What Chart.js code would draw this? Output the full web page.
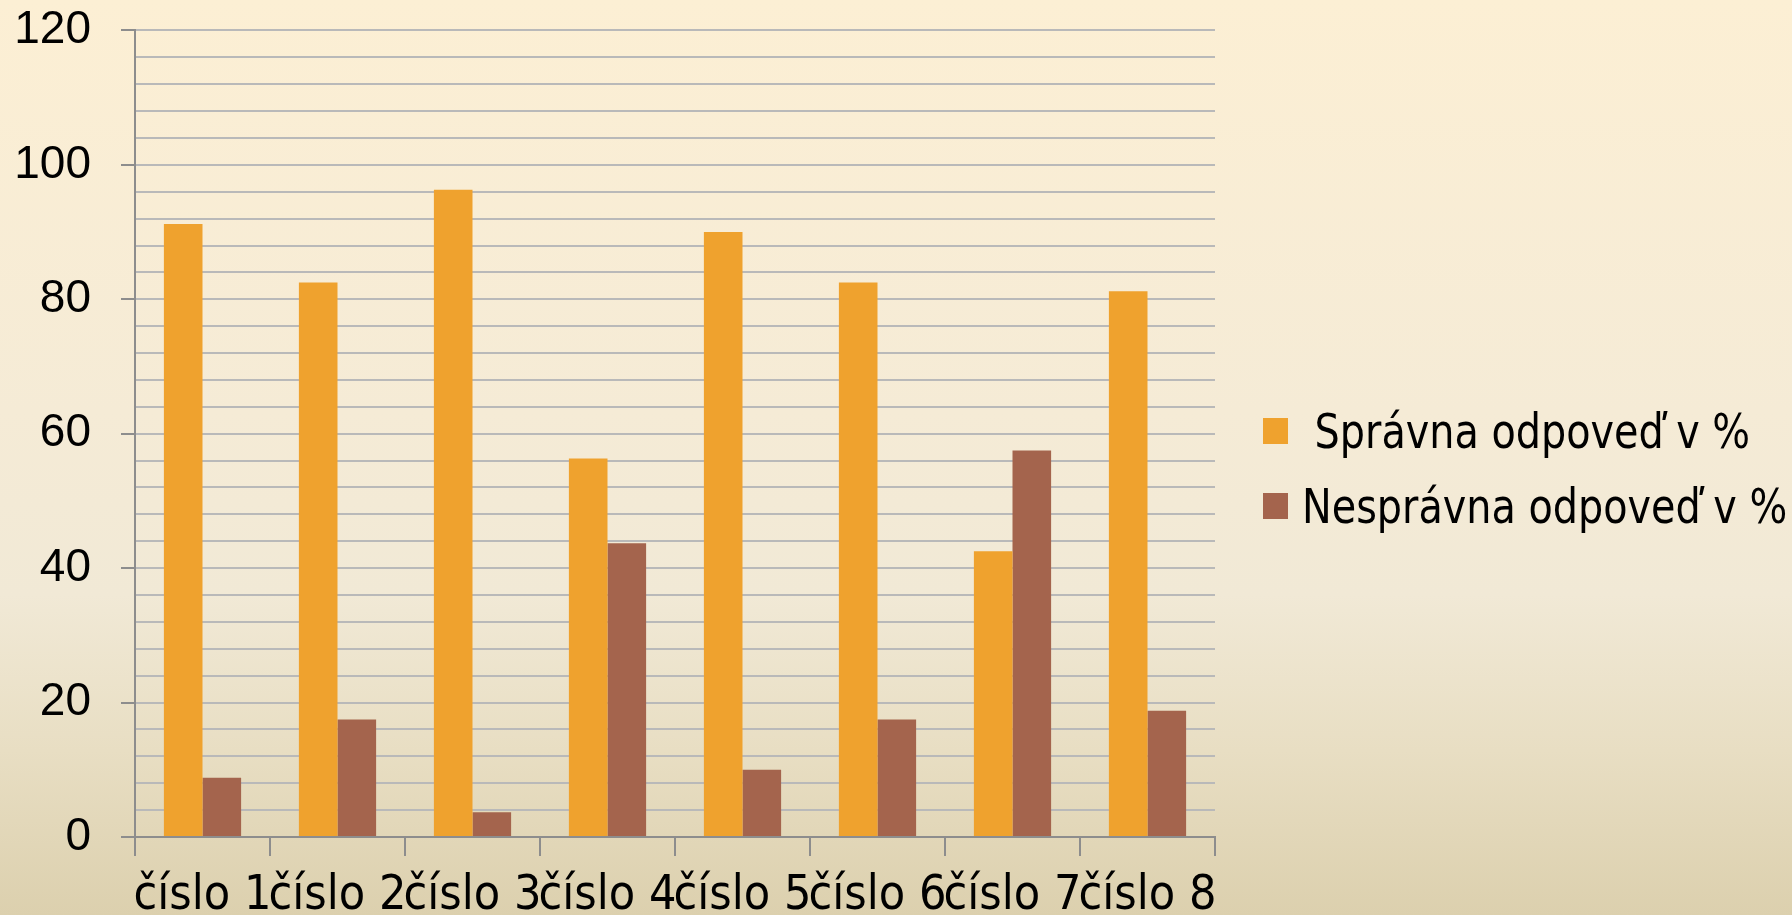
<!DOCTYPE html>
<html>
<head>
<meta charset="utf-8">
<script src="https://cdn.jsdelivr.net/npm/chart.js@4"></script>
<style>
  html, body { margin: 0; padding: 0; }
  body {
    width: 1792px; height: 915px; overflow: hidden;
    background: linear-gradient(to bottom, #fcefd4 0%, #f5ebd6 45%, #f1e9d6 65%, #e8dec3 82%, #dcd0ae 100%);
  }
  #wrap { position: relative; width: 1792px; height: 915px; }
  #legend { position: absolute; left: 1263px; top: 405px; font-family: "DejaVu Sans Condensed", "Liberation Sans", sans-serif; font-size: 48px; color: #000; }
  .legend-row { display: flex; align-items: center; height: 52px; margin-bottom: 23px; white-space: pre; }
  .legend-box { width: 25px; height: 26px; margin-right: 14px; flex: none; }
  .legend-text { display: inline-block; transform: scaleX(0.92); transform-origin: left center; }
</style>
</head>
<body>
<div id="wrap">
  <canvas id="chart"></canvas>
  <div id="legend"></div>
</div>
<script>
// question labels and answer shares (percent)
const categories = ['číslo 1', 'číslo 2', 'číslo 3', 'číslo 4', 'číslo 5', 'číslo 6', 'číslo 7', 'číslo 8'];
const seriesNames = [' Správna odpoveď v %', 'Nesprávna odpoveď v %'];
const seriesColors = ['#efa22e', '#a4644d'];
const correct = [91.2, 82.5, 96.3, 56.3, 90, 82.5, 42.5, 81.2];
const wrong = [8.8, 17.5, 3.7, 43.7, 10, 17.5, 57.5, 18.8];
const yTicks = [0, 20, 40, 60, 80, 100, 120];

const axisGray = '#8d8d8d';
const gridGray = '#b9b9b9';

const chart = new Chart(document.getElementById('chart'), {
  type: 'bar',
  data: {
    labels: categories,
    datasets: [
      { label: seriesNames[0], data: correct, backgroundColor: seriesColors[0], borderWidth: 0 },
      { label: seriesNames[1], data: wrong, backgroundColor: seriesColors[1], borderWidth: 0 }
    ]
  },
  options: {
    responsive: true,
    maintainAspectRatio: false,
    animation: false,
    layout: { padding: { top: 0, right: 577, left: 0, bottom: 0 } },
    datasets: { bar: { barPercentage: 1, categoryPercentage: 0.572 } },
    plugins: {
      tooltip: { enabled: false },
      legend: { display: false }
    },
    scales: {
      x: {
        border: { color: axisGray, width: 2 },
        grid: { display: true, drawOnChartArea: false, color: axisGray, tickLength: 19, lineWidth: 2, offset: true },
        ticks: {
          color: '#000',
          maxRotation: 0,
          autoSkip: false,
          padding: 12,
          font: { family: '"DejaVu Sans Condensed", sans-serif', size: 48 }
        },
        afterFit: s => { s.height = 78; }
      },
      y: {
        min: 0,
        max: 120,
        border: { color: axisGray, width: 2 },
        grid: {
          color: gridGray,
          lineWidth: 2,
          tickLength: 14,
          tickColor: ctx => (yTicks.includes(ctx.tick.value) ? axisGray : 'rgba(0,0,0,0)')
        },
        ticks: {
          stepSize: 4,
          autoSkip: false,
          color: '#000',
          padding: 30,
          font: { family: '"Liberation Sans", Arial, sans-serif', size: 46, lineHeight: 0.02 },
          callback: v => (yTicks.includes(v) ? v : '')
        },
        afterFit: s => { s.width = 135; }
      }
    }
  }
});

// legend built from the dataset names and colours
const legendEl = document.getElementById('legend');
chart.data.datasets.forEach(ds => {
  const row = document.createElement('div');
  row.className = 'legend-row';
  row.innerHTML = `<span class="legend-box" style="background:${ds.backgroundColor}"></span><span class="legend-text">${ds.label}</span>`;
  legendEl.appendChild(row);
});
</script>
</body>
</html>
